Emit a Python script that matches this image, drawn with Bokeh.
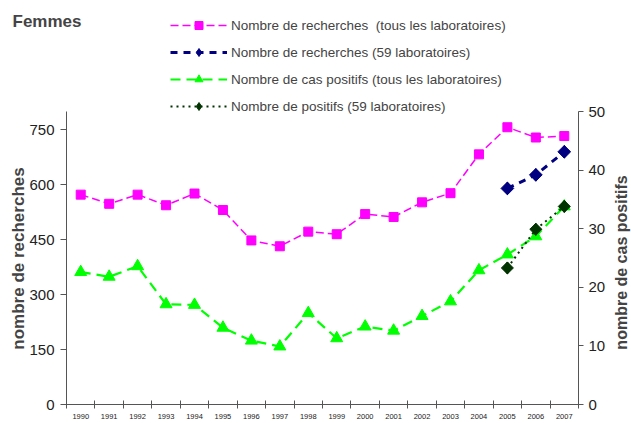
import math
from bokeh.plotting import figure
from bokeh.models import Range1d, LinearAxis, FixedTicker, Legend, LegendItem, Label
from bokeh.embed import file_html
from bokeh.resources import INLINE

# data
years = list(range(1990, 2008))
recherches_tous = [573, 548, 573, 544, 576, 531, 448, 432, 472, 465,
                   520, 512, 552, 577, 683, 757, 729, 733]
positifs_tous = [22.6, 21.8, 23.6, 17.1, 17.0, 13.1, 10.9, 9.9, 15.6, 11.3,
                 13.3, 12.6, 15.1, 17.6, 22.9, 25.6, 28.7, 33.8]
years_59 = [2005, 2006, 2007]
recherches_59 = [590, 627, 690]
positifs_59 = [23.3, 29.9, 33.8]

left_ticks = [0, 150, 300, 450, 600, 750]
right_ticks = [0, 10, 20, 30, 40, 50]
left_max, right_max = 800, 50

FONT = "Liberation Sans"
AXIS_COLOR = "#555555"

# canvas and plot-box geometry in pixels; the frame covers the whole canvas
# so the legend and texts outside the plot box are not clipped
W, H = 631, 423
BOX_L, BOX_R, BOX_T, BOX_B = 66, 578, 111, 404
x0, x1 = years[0] - 0.5, years[-1] + 0.5
ppx = (BOX_R - BOX_L) / (x1 - x0)
ppy = (BOX_B - BOX_T) / left_max
ppy2 = (BOX_B - BOX_T) / right_max

p = figure(width=W, height=H, output_backend="svg", toolbar_location=None,
           x_range=Range1d(x0 - BOX_L / ppx, x1 + (W - BOX_R) / ppx),
           y_range=Range1d(-(H - BOX_B) / ppy, BOX_B / ppy),
           min_border=0, x_axis_location=None, y_axis_location=None)
p.outline_line_color = None
p.grid.visible = False
p.extra_y_ranges = {"pos": Range1d(-(H - BOX_B) / ppy2, BOX_B / ppy2)}

# bottom axis, ticks between the years
xaxis = LinearAxis(ticker=FixedTicker(ticks=years,
                                      minor_ticks=[y - 0.5 for y in years] + [x1]),
                   fixed_location=0, bounds=(x0, x1))
xaxis.major_tick_in = 0
xaxis.major_tick_out = 0
xaxis.minor_tick_in = 4
xaxis.minor_tick_out = 4
xaxis.major_label_standoff = 5
xaxis.major_label_text_font = FONT
xaxis.major_label_text_font_size = "7.5px"
p.add_layout(xaxis, "below")

yaxis = LinearAxis(ticker=FixedTicker(ticks=left_ticks), fixed_location=x0,
                   bounds=(0, left_max))
yaxis.major_tick_out = 6
yaxis.major_label_standoff = 6
p.add_layout(yaxis, "left")

yaxis2 = LinearAxis(y_range_name="pos", ticker=FixedTicker(ticks=right_ticks),
                    fixed_location=x1, bounds=(0, right_max))
yaxis2.major_tick_out = 5
yaxis2.major_label_standoff = 5
p.add_layout(yaxis2, "right")

for ax in (yaxis, yaxis2):
    ax.minor_tick_out = 0
    ax.minor_tick_in = 0
    ax.major_tick_in = 0
    ax.major_label_text_font = FONT
    ax.major_label_text_font_size = "15px"

for ax in (xaxis, yaxis, yaxis2):
    ax.axis_line_color = AXIS_COLOR
    ax.major_tick_line_color = AXIS_COLOR
    ax.minor_tick_line_color = AXIS_COLOR
    ax.major_label_text_color = "#222222"

# series
l1 = p.line(years, recherches_tous, color="#FF00FF", line_width=1.5, line_dash="8 4")
m1 = p.scatter(years, recherches_tous, marker="square", size=9, color="#FF00FF")

l3 = p.line(years, positifs_tous, y_range_name="pos", color="#00FF00",
            line_width=2.2, line_dash="10 6")
m3 = p.scatter(years, positifs_tous, y_range_name="pos", marker="triangle",
               size=12, color="#00FF00")

# the legend draws markers unrotated, so the 59-lab points get a narrow
# diamond (used for the legend) under a wider rotated square
l2 = p.line(years_59, recherches_59, color="#000080", line_width=3, line_dash="7 6")
k2 = p.scatter(years_59, recherches_59, marker="diamond", size=12.5, color="#000080")
m2 = p.scatter(years_59, recherches_59, marker="square", angle=math.pi / 4,
               size=9, color="#000080")

l4 = p.line(years_59, positifs_59, y_range_name="pos", color="#003300",
            line_width=2, line_dash="2 4")
k4 = p.scatter(years_59, positifs_59, y_range_name="pos", marker="diamond",
               size=12, color="#003300")
m4 = p.scatter(years_59, positifs_59, y_range_name="pos", marker="square",
               angle=math.pi / 4, size=8.5, color="#003300")

legend = Legend(items=[
    LegendItem(label="Nombre de recherches  (tous les laboratoires)", renderers=[l1, m1]),
    LegendItem(label="Nombre de recherches (59 laboratoires)", renderers=[l2, k2]),
    LegendItem(label="Nombre de cas positifs (tous les laboratoires)", renderers=[l3, m3]),
    LegendItem(label="Nombre de positifs (59 laboratoires)", renderers=[l4, k4]),
], location=(170, H - 116))
legend.padding = 0
legend.margin = 0
legend.spacing = 7
legend.glyph_width = 57
legend.glyph_height = 20
legend.label_standoff = 4
legend.label_text_font = FONT
legend.label_text_font_size = "13.5px"
legend.border_line_color = None
legend.background_fill_alpha = 0
p.add_layout(legend)

p.add_layout(Label(x=12, y=H - 21, x_units="screen", y_units="screen",
                   text="Femmes", text_font=FONT, text_font_size="17px",
                   text_font_style="bold", text_baseline="middle"))
p.add_layout(Label(x=18, y=H - 258, x_units="screen", y_units="screen",
                   text="nombre de recherches", angle=math.pi / 2,
                   text_font=FONT, text_font_size="17px", text_font_style="bold",
                   text_align="center", text_baseline="middle"))
p.add_layout(Label(x=621, y=H - 262, x_units="screen", y_units="screen",
                   text="nombre de cas positifs", angle=math.pi / 2,
                   text_font=FONT, text_font_size="16px", text_font_style="bold",
                   text_align="center", text_baseline="middle"))

open("out.html", "w").write(file_html(p, INLINE))
